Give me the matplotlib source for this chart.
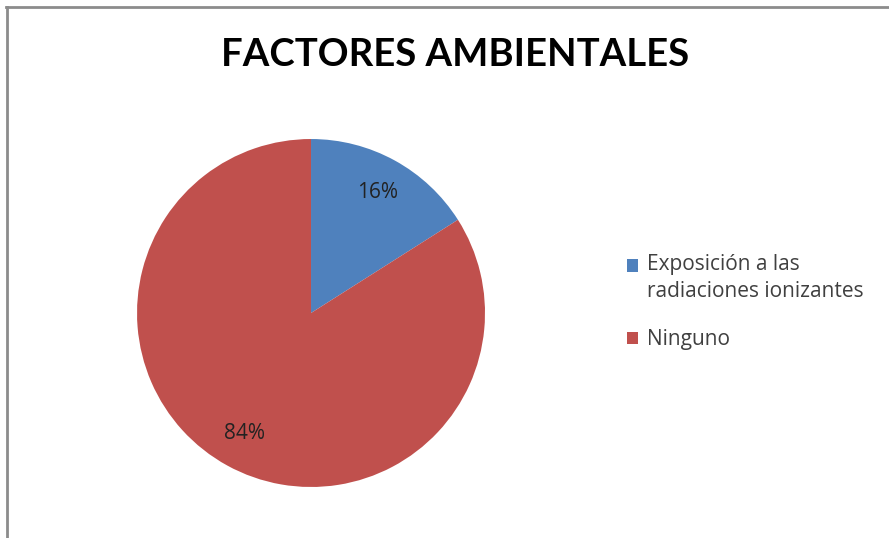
import matplotlib
matplotlib.use("Agg")
import matplotlib.pyplot as plt
from matplotlib.lines import Line2D
from matplotlib.patches import Rectangle
from matplotlib.legend_handler import HandlerPatch

title = "FACTORES AMBIENTALES"
categories = ["Exposición a las\nradiaciones ionizantes", "Ninguno"]
values = [16, 84]
colors = ["#4F81BD", "#C0504D"]


class TopAlignedHandler(HandlerPatch):
    def __init__(self, dy, **kw):
        super().__init__(**kw)
        self.dy = dy

    def create_artists(self, legend, orig_handle, xdescent, ydescent, width, height, fontsize, trans):
        p = Rectangle((-xdescent, -ydescent + self.dy), width, height)
        self.update_prop(p, orig_handle, legend)
        p.set_transform(trans)
        return [p]


fig = plt.figure(figsize=(8.89, 5.38), dpi=100)
fig.patch.set_facecolor("white")

# border (left and top visible)
fig.add_artist(Line2D([0.008, 0.008], [0.0, 0.987], transform=fig.transFigure, color="#8c8c8c", lw=2))
fig.add_artist(Line2D([0.007, 1.0], [0.987, 0.987], transform=fig.transFigure, color="#8c8c8c", lw=2))

ax = fig.add_axes([0.1541, 0.0948, 0.3915, 0.6468])
wedges, texts, autotexts = ax.pie(values, colors=colors, startangle=90, counterclock=False,
                                  autopct=lambda p: f"{p:.0f}%", pctdistance=0.79,
                                  wedgeprops=dict(linewidth=0),
                                  textprops=dict(fontsize=15, color="#222222", family="Open Sans"))
ax.set_xlim(-1, 1)
ax.set_ylim(-1, 1)
ax.set_aspect("equal")

fig.text(0.512, 0.897, title, ha="center", va="center", fontsize=27.5, fontweight="bold",
         family="Lato", color="black")

leg = fig.legend(wedges, categories, loc="upper left", bbox_to_anchor=(0.684, 0.563),
                 frameon=False, handlelength=0.55, handleheight=0.55, handletextpad=0.4,
                 labelspacing=1.3, prop=dict(family="Open Sans", size=15),
                 handler_map={wedges[0]: TopAlignedHandler(9.5)})
for t in leg.get_texts():
    t.set_color("#404040")
    t.set_linespacing(1.4)

fig.savefig("out.png", dpi=100)
